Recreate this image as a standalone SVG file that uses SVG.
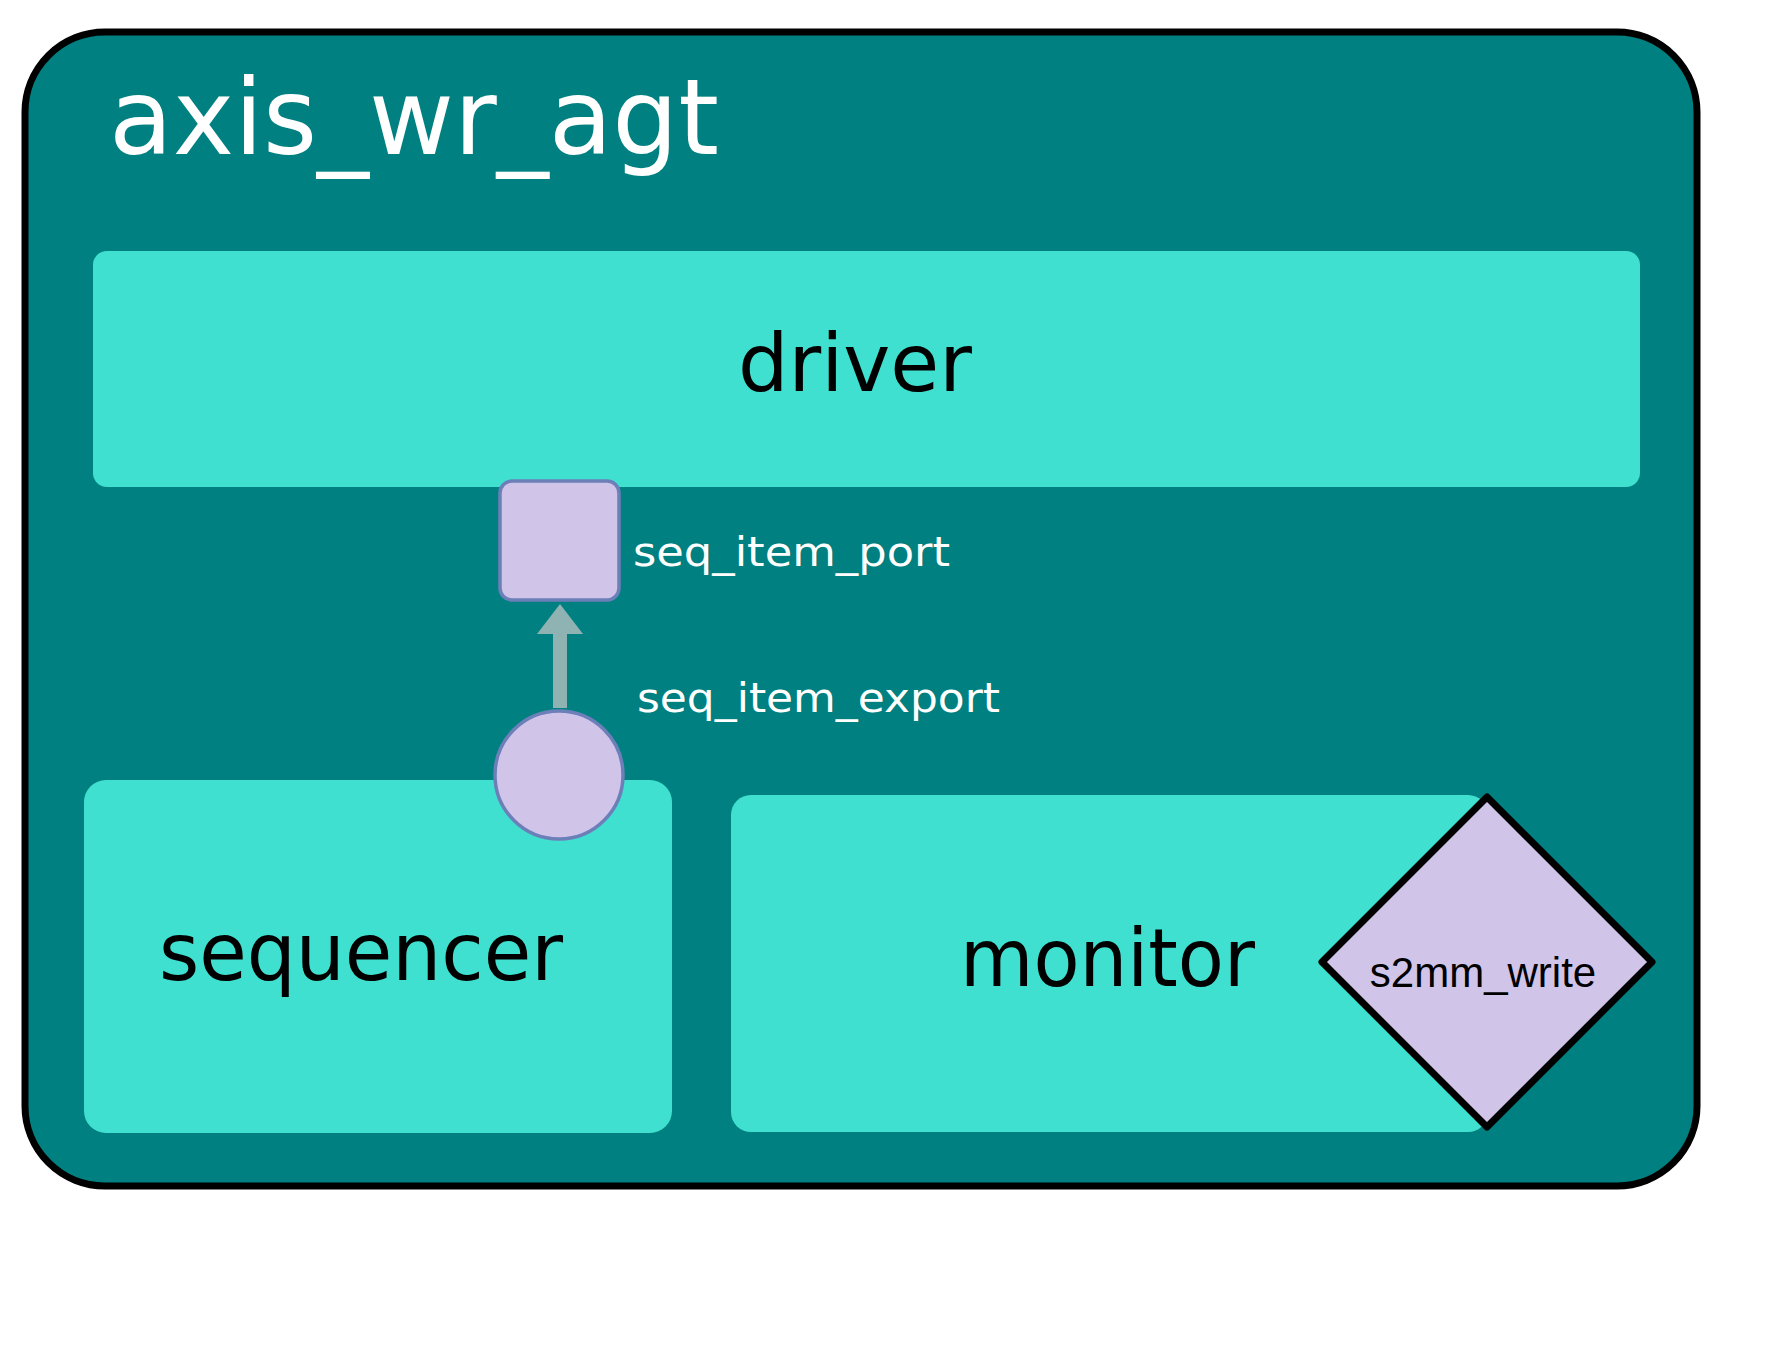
<svg xmlns="http://www.w3.org/2000/svg" width="1778" height="1372" viewBox="0 0 1778 1372">
  <style>
    .box { fill: #40E0D0; }
    .lbl { font-family: "DejaVu Sans", "Liberation Sans", sans-serif; }
    .big { font-size: 81px; fill: #000000; }
    .port { fill: #D1C4E9; stroke: #6C7FB8; stroke-width: 3.5; }
    .small { font-size: 41px; fill: #FFFFFF; }
  </style>
  <defs>
    <marker id="arrowhead" markerUnits="userSpaceOnUse" markerWidth="30" markerHeight="46" refX="0" refY="23" orient="auto" viewBox="0 0 30 46">
      <polygon points="0,0 30,23 0,46" fill="#8FB2B2"/>
    </marker>
  </defs>
  <rect width="1778" height="1372" fill="#FFFFFF"/>
  <g id="axis_wr_agt">
    <rect x="25" y="32" width="1672" height="1154" rx="80" ry="80" fill="#008080" stroke="#000000" stroke-width="7"/>
    <text class="lbl" x="109" y="154" font-size="106" fill="#FFFFFF" textLength="610" lengthAdjust="spacingAndGlyphs">axis_wr_agt</text>
  </g>
  <g id="driver">
    <rect class="box" x="93" y="251" width="1547" height="236" rx="14" ry="14"/>
    <text class="lbl big" x="738" y="391" textLength="234" lengthAdjust="spacingAndGlyphs">driver</text>
  </g>
  <g id="sequencer">
    <rect class="box" x="84" y="780" width="588" height="353" rx="22" ry="22"/>
    <text class="lbl big" x="159" y="980" textLength="404" lengthAdjust="spacingAndGlyphs">sequencer</text>
  </g>
  <g id="monitor">
    <rect class="box" x="731" y="795" width="757" height="337" rx="20" ry="20"/>
    <text class="lbl big" x="960" y="986" textLength="295" lengthAdjust="spacingAndGlyphs">monitor</text>
  </g>
  <g id="seq_item_port">
    <rect class="port" x="500" y="481" width="119" height="119" rx="12" ry="12"/>
    <text class="lbl small" x="633" y="566" textLength="317" lengthAdjust="spacingAndGlyphs">seq_item_port</text>
  </g>
  <g id="seq_item_export">
    <circle class="port" cx="559" cy="775" r="64"/>
    <text class="lbl small" x="637" y="712" font-size="42" textLength="363" lengthAdjust="spacingAndGlyphs">seq_item_export</text>
  </g>
  <g id="s2mm_write">
    <polygon points="1487,797 1652,962 1487,1127 1322,962" fill="#D1C4E9" stroke="#000000" stroke-width="7" stroke-linejoin="round"/>
    <text x="1483" y="987" font-family="'Liberation Sans', Arial, sans-serif" font-size="42" fill="#000000" text-anchor="middle">s2mm_write</text>
  </g>
  <g id="connectors">
    <line x1="560" y1="708" x2="560" y2="634" stroke="#8FB2B2" stroke-width="14" marker-end="url(#arrowhead)"/>
  </g>
</svg>
